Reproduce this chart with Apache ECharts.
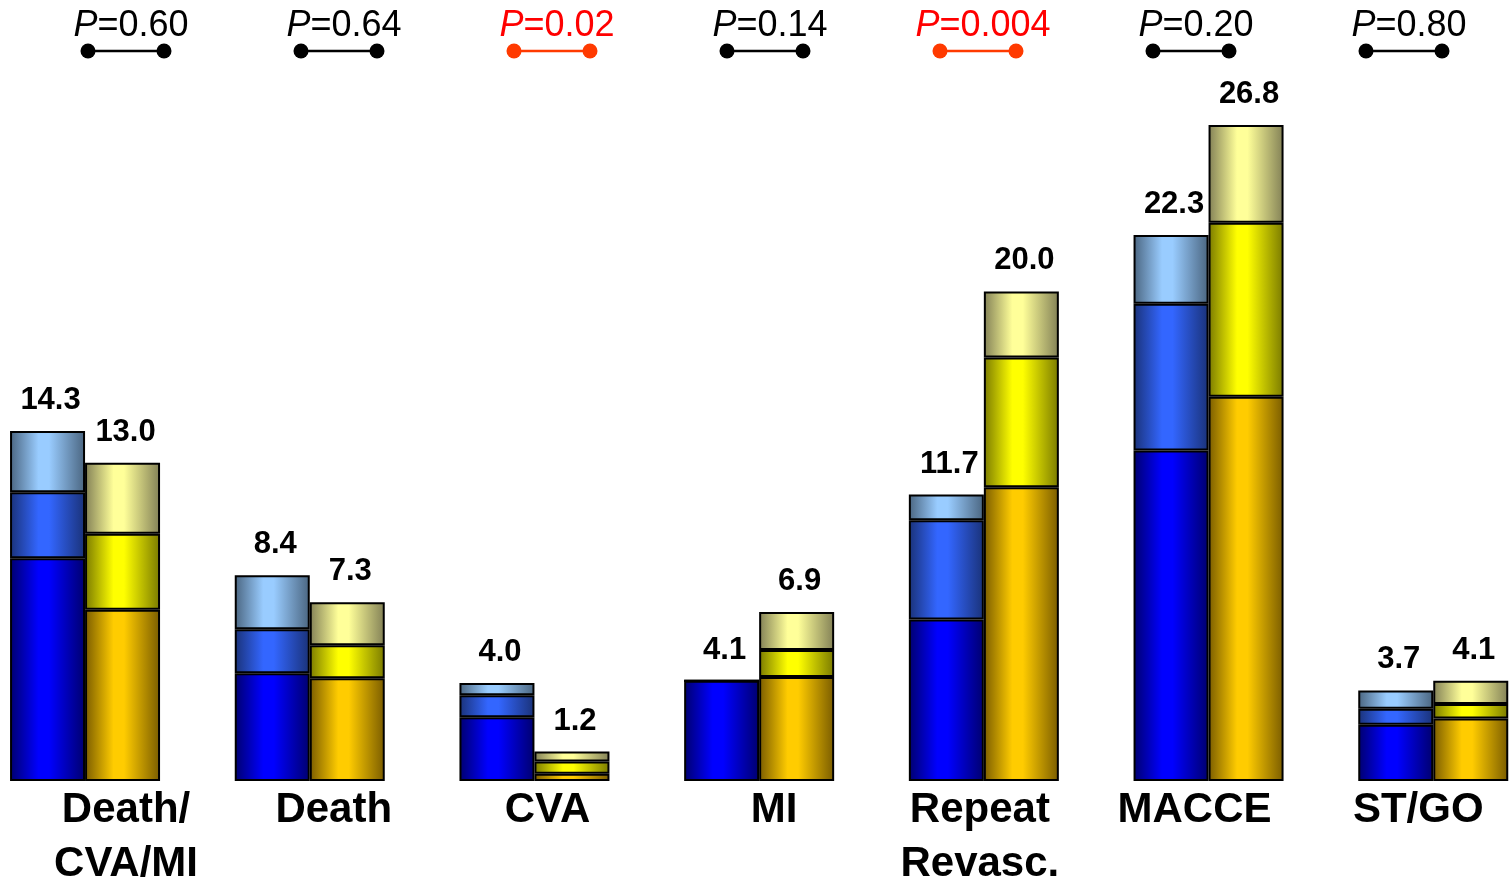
<!DOCTYPE html>
<html>
<head>
<meta charset="utf-8">
<script src="https://cdn.jsdelivr.net/npm/echarts@6/dist/echarts.min.js"></script>
<style>
  html, body { margin: 0; padding: 0; background: #ffffff; }
  #chart { width: 1511px; height: 887px; }
</style>
</head>
<body>
<div id="chart"></div>
<script>
// Outcome categories along the x axis
const categories = ['Death/\nCVA/MI', 'Death', 'CVA', 'MI', 'Repeat\nRevasc.', 'MACCE', 'ST/GO'];

// Blue arm: event rates (%) — total and its three stacked components
const blueTotal  = [14.3, 8.4, 4.0, 4.1, 11.7, 22.3, 3.7];
const blueLower  = [9.1, 4.4, 2.6, 4.1, 6.6, 13.5, 2.3];
const blueMiddle = [2.7, 1.8, 0.9, 0, 4.05, 6.0, 0.65];
const blueUpper  = [2.5, 2.2, 0.5, 0, 1.05, 2.8, 0.75];

// Gold arm: event rates (%) — total and its three stacked components
const goldTotal  = [13.0, 7.3, 1.2, 6.9, 20.0, 26.8, 4.1];
const goldLower  = [7.0, 4.2, 0.3, 4.25, 12.0, 15.7, 2.55];
const goldMiddle = [3.1, 1.35, 0.5, 1.1, 5.3, 7.1, 0.6];
const goldUpper  = [2.9, 1.75, 0.4, 1.55, 2.7, 4.0, 0.95];

// P values comparing the two arms, per category
const pValues = ['0.60', '0.64', '0.02', '0.14', '0.004', '0.20', '0.80'];

// ---- styling / layout ----
const FONT = '"Liberation Sans", Arial, Helvetica, sans-serif';
const BAR_W = 75;
// horizontal nudge (px) of each category caption relative to its pair of bars
const captionShift = [41, 24, 13, 15, -4, -14, -15];

function shade(edge, mid) {
  return new echarts.graphic.LinearGradient(0, 0, 1, 0, [
    { offset: 0, color: edge },
    { offset: 0.38, color: mid },
    { offset: 0.52, color: mid },
    { offset: 1, color: edge }
  ]);
}

const palette = {
  blueLower:  shade('#00006e', '#0000ff'),
  blueMiddle: shade('#1a3278', '#3366ff'),
  blueUpper:  shade('#4a6580', '#99ccff'),
  goldLower:  shade('#7a5c00', '#ffcc00'),
  goldMiddle: shade('#7a7a00', '#ffff00'),
  goldUpper:  shade('#828056', '#ffff99')
};

function barSeries(name, stack, data, color) {
  return {
    name: name,
    type: 'bar',
    stack: stack,
    xAxisIndex: 0,
    yAxisIndex: 0,
    data: data,
    barWidth: BAR_W,
    barGap: '0%',
    itemStyle: { color: color, borderColor: '#000000', borderWidth: 2 },
    silent: true,
    z: 2
  };
}

function totalSeries(totals, dx) {
  return {
    type: 'scatter',
    xAxisIndex: 0,
    yAxisIndex: 0,
    data: totals.map((v, i) => [i, v]),
    symbolSize: 0,
    itemStyle: { color: 'transparent' },
    silent: true,
    z: 5,
    label: {
      show: true,
      position: 'top',
      distance: 15,
      offset: [dx + 3, 0],
      color: '#000000',
      opacity: 1,
      fontFamily: FONT,
      fontWeight: 'bold',
      fontSize: 31,
      formatter: p => p.value[1].toFixed(1)
    }
  };
}

const captionRich = {};
captionShift.forEach((s, i) => {
  captionRich['c' + i] = {
    fontFamily: FONT,
    fontWeight: 'bold',
    fontSize: 42,
    lineHeight: 54,
    color: '#000000',
    padding: s >= 0 ? [0, 0, 0, 2 * s] : [0, -2 * s, 0, 0]
  };
});

const chart = echarts.init(document.getElementById('chart'), null, { renderer: 'canvas' });

chart.setOption({
  backgroundColor: '#ffffff',
  animation: false,
  grid: [
    { left: -27.3, top: 46.6, width: 1572.9, height: 734.4, outerBoundsMode: 'none', containLabel: false },
    { left: 19.5, top: 0, width: 1491, height: 102, outerBoundsMode: 'none', containLabel: false }
  ],
  xAxis: [
    {
      type: 'category',
      gridIndex: 0,
      data: categories,
      axisLine: { show: false },
      axisTick: { show: false },
      splitLine: { show: false },
      axisLabel: {
        interval: 0,
        margin: 2,
        hideOverlap: false,
        formatter: (value, index) =>
          value.split('\n').map(line => '{c' + index + '|' + line + '}').join('\n'),
        rich: captionRich
      }
    },
    {
      type: 'category',
      gridIndex: 1,
      data: categories,
      show: false
    }
  ],
  yAxis: [
    { type: 'value', gridIndex: 0, min: 0, max: 30, show: false },
    { type: 'value', gridIndex: 1, min: 0, max: 1, show: false }
  ],
  series: [
    barSeries('blueLower', 'blue', blueLower, palette.blueLower),
    barSeries('blueMiddle', 'blue', blueMiddle, palette.blueMiddle),
    barSeries('blueUpper', 'blue', blueUpper, palette.blueUpper),
    barSeries('goldLower', 'gold', goldLower, palette.goldLower),
    barSeries('goldMiddle', 'gold', goldMiddle, palette.goldMiddle),
    barSeries('goldUpper', 'gold', goldUpper, palette.goldUpper),
    totalSeries(blueTotal, -BAR_W / 2),
    totalSeries(goldTotal, BAR_W / 2),
    {
      type: 'custom',
      xAxisIndex: 1,
      yAxisIndex: 1,
      data: pValues.map((p, i) => [i, 0.5]),
      silent: true,
      renderItem: function (params, api) {
        const i = api.value(0);
        const c = api.coord([i, api.value(1)]);
        const significant = parseFloat(pValues[i]) < 0.05;
        const lineCol = significant ? '#ff3a00' : '#000000';
        const textCol = significant ? '#ff0000' : '#000000';
        const half = 38;
        return {
          type: 'group',
          children: [
            { type: 'line', shape: { x1: c[0] - half, y1: c[1], x2: c[0] + half, y2: c[1] },
              style: { stroke: lineCol, lineWidth: 2.5 } },
            { type: 'circle', shape: { cx: c[0] - half, cy: c[1], r: 7.5 }, style: { fill: lineCol } },
            { type: 'circle', shape: { cx: c[0] + half, cy: c[1], r: 7.5 }, style: { fill: lineCol } },
            { type: 'text', x: c[0] + 5, y: c[1] - 25,
              style: {
                text: '{i|P}=' + pValues[i],
                fill: textCol,
                fontFamily: FONT,
                fontSize: 36,
                align: 'center',
                verticalAlign: 'middle',
                rich: {
                  i: { fontStyle: 'italic', fontFamily: FONT, fontSize: 36, fill: textCol }
                }
              } }
          ]
        };
      }
    }
  ]
});
</script>
</body>
</html>
